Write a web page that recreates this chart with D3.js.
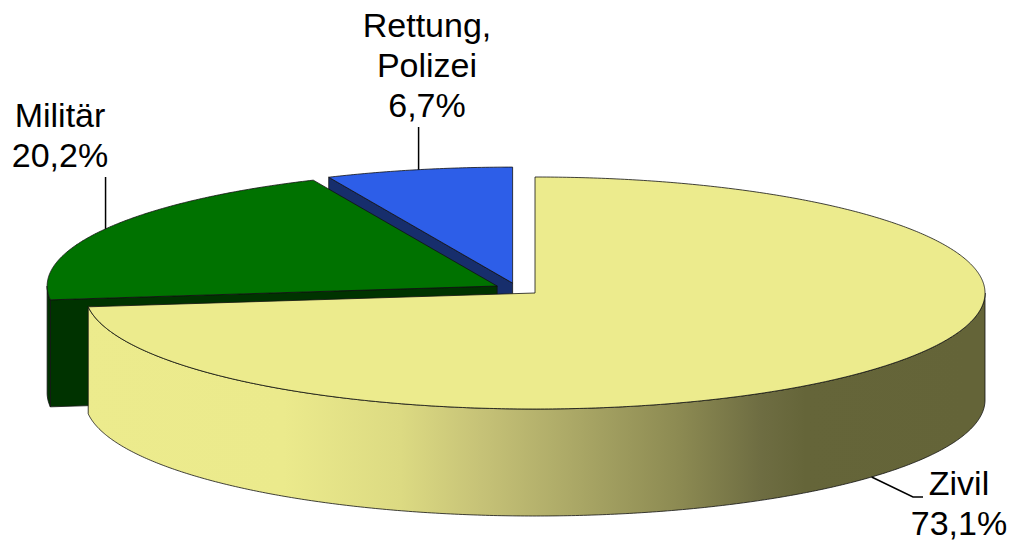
<!DOCTYPE html>
<html>
<head>
<meta charset="utf-8">
<script src="https://cdn.jsdelivr.net/npm/d3@7"></script>
<style>
  html, body { margin: 0; padding: 0; background: #fff; }
  svg { display: block; }
  .label { font-family: Arial, "Liberation Sans", sans-serif; font-size: 34px; fill: #000; }
</style>
</head>
<body>
<svg id="chart" width="1014" height="542"></svg>
<script>
'use strict';

var categories = ["Zivil", "Militär", "Rettung, Polizei"];
var shares = [73.1, 20.2, 6.7];
var topColors = ["#ECEB8D", "#007200", "#2D5EE8"];
var sideColors = ["url(#zivilSide)", "#003300", "#172E6C"];

var width = 1014, height = 542;
var cx = 517.5, cy = 289, rx = 450, ry = 116, depth = 107, explode = 0.052;
// label anchors (centre x, first baseline)
var labelPos = [{ x: 959, y: 495 }, { x: 60, y: 127 }, { x: 427, y: 37 }];
var lineStep = 40;

var svg = d3.select("#chart");
var x = d3.scaleLinear().domain([-1, 1]).range([cx - rx, cx + rx]);
var y = d3.scaleLinear().domain([-1, 1]).range([cy + ry, cy - ry]);

var locale = d3.formatLocale({ decimal: ",", thousands: ".", grouping: [3], currency: ["", "€"] });
var fmt = locale.format(".1f");

// gradient for the big slice's side (light left, dark right)
var grad = svg.append("defs").append("linearGradient")
  .attr("id", "zivilSide")
  .attr("gradientUnits", "userSpaceOnUse")
  .attr("x1", x(-1)).attr("x2", x(1)).attr("y1", 0).attr("y2", 0);
[[0, "#ECEB8D"], [0.24, "#EBEA8C"], [0.37, "#DCDA82"], [0.46, "#C6C277"], [0.57, "#A9A665"],
 [0.68, "#8C8A52"], [0.77, "#6E6D42"], [0.82, "#656539"], [1, "#646438"]].forEach(function (s) {
  grad.append("stop").attr("offset", s[0]).attr("stop-color", s[1]);
});

var pie = d3.pie().sort(null).startAngle(0).endAngle(2 * Math.PI);
var arcs = pie(shares).map(function (d, i) {
  var mid = (d.startAngle + d.endAngle) / 2;
  d.i = i;
  d.mid = mid;
  d.ox = explode * Math.sin(mid);
  d.oy = explode * Math.cos(mid);
  return d;
});

function pt(d, a, r, z) {
  return [x(d.ox + r * Math.sin(a)), y(d.oy + r * Math.cos(a)) + z];
}

function arcPoints(d, a0, a1, z) {
  var n = Math.max(2, Math.ceil((a1 - a0) / (Math.PI / 360)));
  return d3.range(n + 1).map(function (k) { return pt(d, a0 + (a1 - a0) * k / n, 1, z); });
}

var line = d3.line();

function topPath(d) {
  return line([pt(d, 0, 0, 0)].concat(arcPoints(d, d.startAngle, d.endAngle, 0))) + "Z";
}

function outerSide(d) {
  var lo = Math.max(d.startAngle, Math.PI / 2), hi = Math.min(d.endAngle, 3 * Math.PI / 2);
  if (lo >= hi) return null;
  return line(arcPoints(d, lo, hi, 0).concat(arcPoints(d, lo, hi, depth).reverse())) + "Z";
}

function radialFace(d, a) {
  return line([pt(d, a, 0, 0), pt(d, a, 1, 0), pt(d, a, 1, depth), pt(d, a, 0, depth)]) + "Z";
}

// back to front
var order = arcs.slice().sort(function (a, b) { return b.oy - a.oy; });

var slices = svg.selectAll("g.slice").data(order).enter().append("g").attr("class", "slice");

slices.each(function (d) {
  var g = d3.select(this);
  var faces = [];
  if (Math.cos(d.startAngle - Math.PI / 2) < -1e-6) faces.push(radialFace(d, d.startAngle));
  if (Math.cos(d.endAngle + Math.PI / 2) < -1e-6) faces.push(radialFace(d, d.endAngle));
  faces.forEach(function (p) {
    g.append("path").attr("d", p)
      .attr("fill", sideColors[d.i])
      .attr("stroke", "#111").attr("stroke-width", 0.8).attr("stroke-linejoin", "round");
  });
  var s = outerSide(d);
  if (s) {
    g.append("path").attr("d", s)
      .attr("fill", sideColors[d.i])
      .attr("stroke", "#111").attr("stroke-width", 0.8).attr("stroke-linejoin", "round");
  }
  g.append("path").attr("d", topPath(d))
    .attr("fill", topColors[d.i])
    .attr("stroke", "#111").attr("stroke-width", 0.8).attr("stroke-linejoin", "round");
});

// labels and leader lines
arcs.forEach(function (d) {
  var lines = categories[d.i].split(" ").concat([fmt(shares[d.i]) + "%"]);
  var p = labelPos[d.i];
  var txt = svg.append("text").attr("class", "label").attr("text-anchor", "middle");
  lines.forEach(function (t, k) {
    txt.append("tspan").attr("x", p.x).attr("y", p.y + k * lineStep).text(t);
  });

  var front = Math.cos(d.mid) < 0;
  var edge = pt(d, d.mid, 1, front ? depth : 0);
  var pts;
  if (front) {
    pts = [edge, [p.x - 46, p.y + 2], [p.x - 36, p.y + 2]];
  } else {
    var y0 = p.y + (lines.length - 1) * lineStep + 10;
    pts = [[edge[0], y0], edge];
  }
  svg.append("path").attr("d", line(pts))
    .attr("fill", "none").attr("stroke", "#000").attr("stroke-width", 1.5);
});
</script>
</body>
</html>
